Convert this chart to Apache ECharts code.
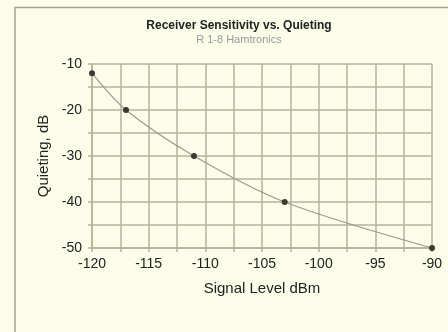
<!DOCTYPE html>
<html>
<head>
<meta charset="utf-8">
<script src="https://cdn.jsdelivr.net/npm/echarts@6/dist/echarts.min.js"></script>
<style>
  html, body { margin: 0; padding: 0; background: #fcfde9; }
  #chart { width: 448px; height: 332px; }
</style>
</head>
<body>
<div id="chart"></div>
<script>
// Receiver quieting measured against input signal level
const signalLevels = [-120, -117, -111, -103, -90];   // dBm
const quieting = [-12, -20, -30, -40, -50];             // dB

const chart = echarts.init(document.getElementById('chart'), null, { renderer: 'canvas' });
const gridColor = '#b3b39c';
const textFont = 'Liberation Sans, Arial, sans-serif';

chart.setOption({
  backgroundColor: '#fcfde9',
  animation: false,
  graphic: [
    {
      type: 'polyline',
      shape: { points: [[15, 332], [15, 7.5], [448, 7.5]] },
      style: { stroke: '#a4a48e', lineWidth: 1.5, fill: null }
    }
  ],
  title: {
    text: 'Receiver Sensitivity vs. Quieting',
    subtext: 'R 1-8 Hamtronics',
    left: 234,
    textAlign: 'center',
    top: 15,
    itemGap: 2,
    textStyle: { fontFamily: textFont, fontSize: 12, fontWeight: 'bold', color: '#222' },
    subtextStyle: { fontFamily: textFont, fontSize: 11, color: '#9a9a9a' }
  },
  grid: { left: 92, right: 16, top: 64, bottom: 84 },
  xAxis: {
    type: 'value',
    min: -120, max: -90, interval: 2.5,
    name: 'Signal Level dBm',
    nameLocation: 'middle',
    nameGap: 33,
    nameTextStyle: { fontFamily: textFont, fontSize: 15, color: '#222' },
    axisLine: { show: true, lineStyle: { color: gridColor, width: 1.5 } },
    axisTick: { show: true, length: 4, lineStyle: { color: gridColor, width: 1.5 } },
    axisLabel: {
      fontFamily: textFont, fontSize: 14, color: '#222', margin: 9,
      formatter: v => (v % 5 === 0 ? String(v) : '')
    },
    splitLine: { show: true, lineStyle: { color: gridColor, width: 1.5 } }
  },
  yAxis: {
    type: 'value',
    min: -50, max: -10, interval: 5,
    name: 'Quieting, dB',
    nameLocation: 'middle',
    nameGap: 40,
    nameTextStyle: { fontFamily: textFont, fontSize: 15, color: '#222' },
    axisLine: { show: true, lineStyle: { color: gridColor, width: 1.5 } },
    axisTick: { show: true, length: 4, lineStyle: { color: gridColor, width: 1.5 } },
    axisLabel: {
      fontFamily: textFont, fontSize: 14, color: '#222', margin: 10,
      formatter: v => (v % 10 === 0 ? String(v) : '')
    },
    splitLine: { show: true, lineStyle: { color: gridColor, width: 1.5 } }
  },
  series: [
    {
      type: 'line',
      data: signalLevels.map((x, i) => [x, quieting[i]]),
      smooth: 0.3,
      symbol: 'circle',
      symbolSize: 6,
      itemStyle: { color: '#3a3a32' },
      lineStyle: { color: '#9a9a90', width: 1.2 }
    }
  ]
});
</script>
</body>
</html>
